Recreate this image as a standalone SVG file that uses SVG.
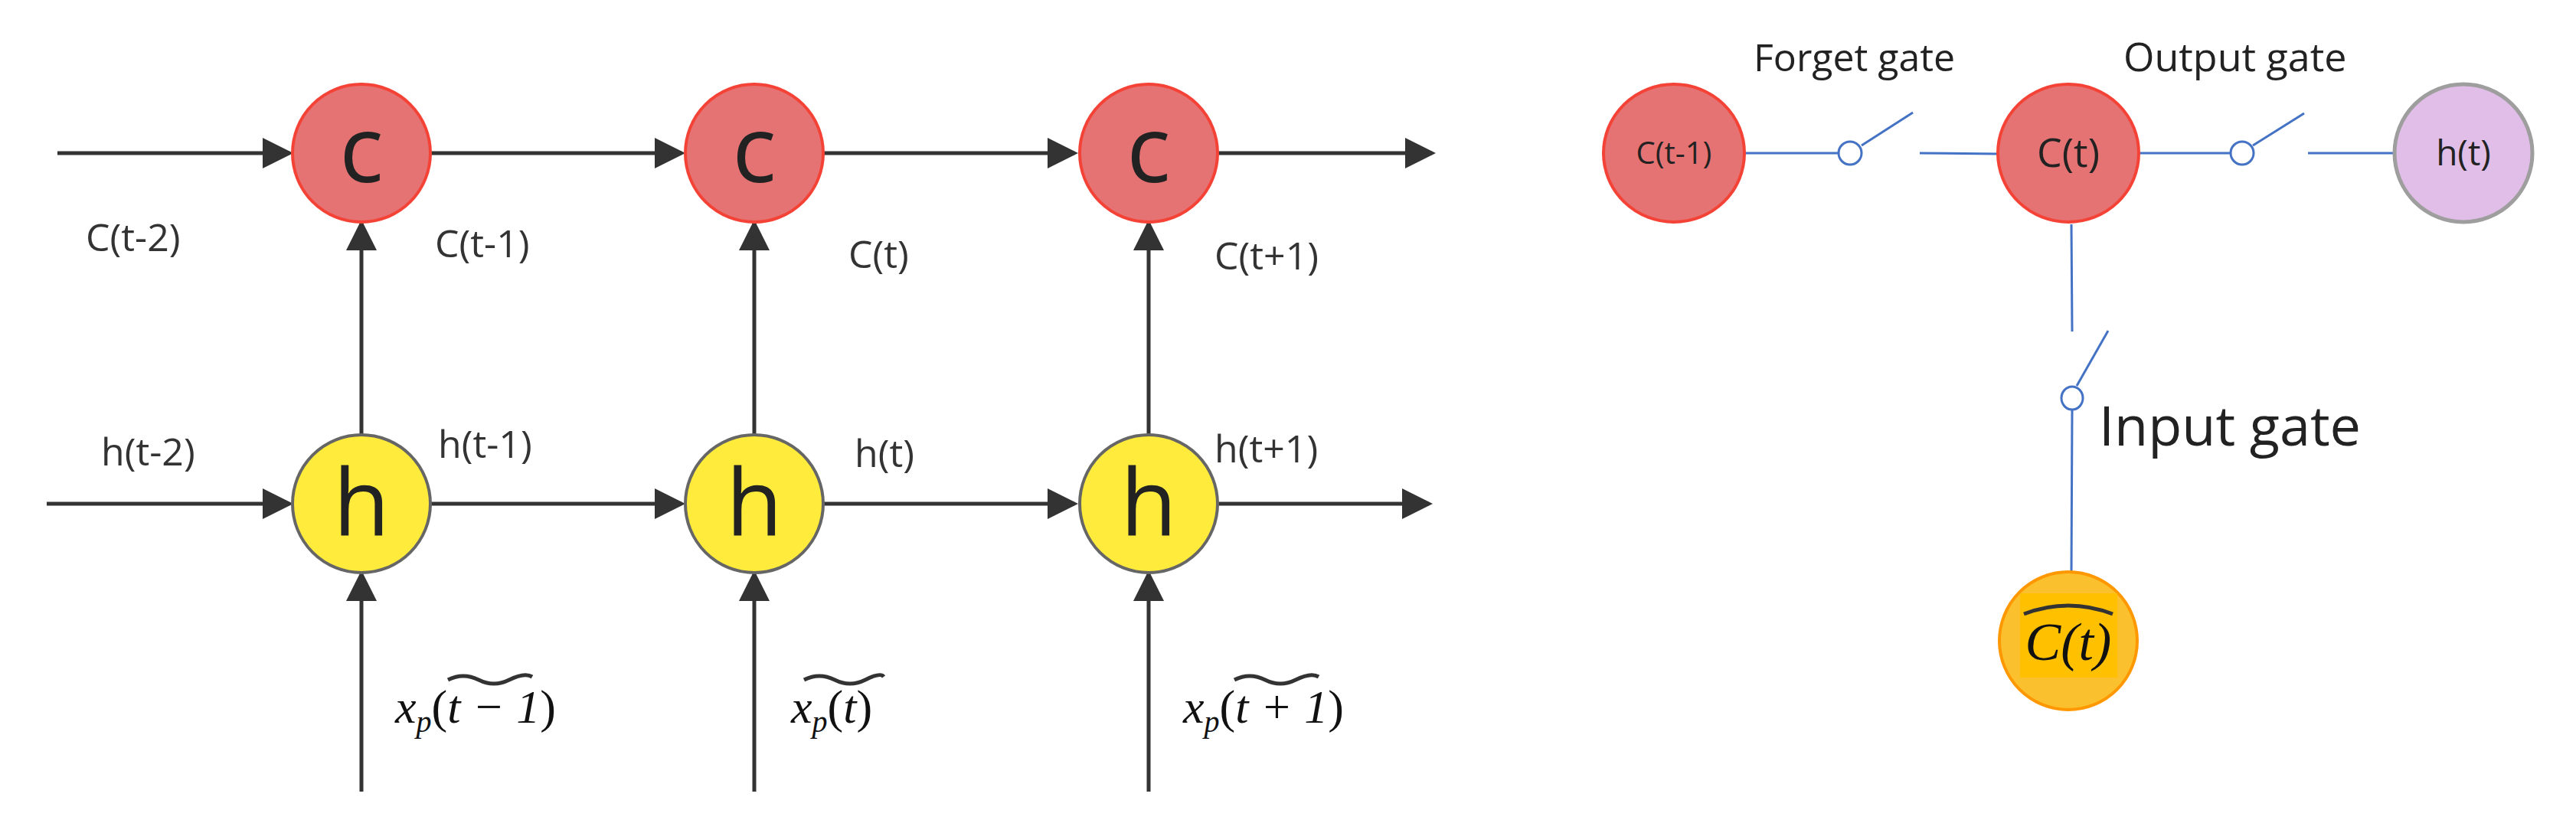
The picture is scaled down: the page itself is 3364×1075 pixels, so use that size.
<svg xmlns="http://www.w3.org/2000/svg" width="3364" height="1075" viewBox="0 0 3364 1075">
<style>
.lbl{font-family:"Open Sans","Noto Sans",sans-serif;font-size:50px;fill:#333}
.big{font-family:"Open Sans","Noto Sans",sans-serif;font-size:120px;fill:#222;text-anchor:middle}
.math{font-family:"Liberation Serif",serif;font-style:italic;font-size:62px;fill:#111}
.c{fill:#e57373;stroke:#f44336;stroke-width:4}
.h{fill:#ffeb3b;stroke:#666;stroke-width:4}
.ar{stroke:#333;stroke-width:5;fill:none}
.bl{stroke:#4472c4;stroke-width:3;fill:none}
.sw{stroke:#4472c4;stroke-width:3;fill:#fff}
.tl{font-family:"Open Sans","Noto Sans",sans-serif;fill:#222}
</style>
<defs><marker id="a" markerWidth="8" markerHeight="8" refX="7" refY="4" orient="auto" markerUnits="strokeWidth"><path d="M0,0L8,4L0,8z" fill="#333"/></marker></defs>
<rect width="3364" height="1075" fill="#fff"/>
<g id="connectors">
<line class="ar" x1="75" y1="200" x2="378" y2="200" marker-end="url(#a)"/>
<line class="ar" x1="560" y1="200" x2="890" y2="200" marker-end="url(#a)"/>
<line class="ar" x1="1072" y1="200" x2="1403" y2="200" marker-end="url(#a)"/>
<line class="ar" x1="1585" y1="200" x2="1870" y2="200" marker-end="url(#a)"/>
<line class="ar" x1="61" y1="658" x2="378" y2="658" marker-end="url(#a)"/>
<line class="ar" x1="560" y1="658" x2="890" y2="658" marker-end="url(#a)"/>
<line class="ar" x1="1072" y1="658" x2="1403" y2="658" marker-end="url(#a)"/>
<line class="ar" x1="1585" y1="658" x2="1866" y2="658" marker-end="url(#a)"/>
<line class="ar" x1="472" y1="568" x2="472" y2="292" marker-end="url(#a)"/>
<line class="ar" x1="985" y1="568" x2="985" y2="292" marker-end="url(#a)"/>
<line class="ar" x1="1500" y1="568" x2="1500" y2="292" marker-end="url(#a)"/>
<line class="ar" x1="472" y1="1034" x2="472" y2="750" marker-end="url(#a)"/>
<line class="ar" x1="985" y1="1034" x2="985" y2="750" marker-end="url(#a)"/>
<line class="ar" x1="1500" y1="1034" x2="1500" y2="750" marker-end="url(#a)"/>
<line class="bl" x1="2278" y1="200" x2="2401" y2="200"/>
<line class="bl" x1="2431" y1="190" x2="2498" y2="147"/>
<line class="bl" x1="2507" y1="200" x2="2610" y2="201"/>
<line class="bl" x1="2794" y1="200" x2="2913" y2="200"/>
<line class="bl" x1="2942" y1="190" x2="3009" y2="148"/>
<line class="bl" x1="3014" y1="200" x2="3126" y2="200"/>
<line class="bl" x1="2705" y1="293" x2="2706" y2="433"/>
<line class="bl" x1="2712" y1="504" x2="2753" y2="432"/>
<line class="bl" x1="2706" y1="535" x2="2705" y2="747"/>
<ellipse class="sw" cx="2416" cy="200" rx="15" ry="15"/>
<ellipse class="sw" cx="2928" cy="200" rx="15" ry="15"/>
<ellipse class="sw" cx="2706" cy="520" rx="14" ry="15"/>
</g>
<g id="c1"><circle class="c" cx="472" cy="200" r="90"/><text class="big" x="472" y="238">c</text></g>
<g id="c2"><circle class="c" cx="985" cy="200" r="90"/><text class="big" x="985" y="238">c</text></g>
<g id="c3"><circle class="c" cx="1500" cy="200" r="90"/><text class="big" x="1500" y="238">c</text></g>
<g id="h1"><circle class="h" cx="472" cy="658" r="90"/><text class="big" x="472" y="700">h</text></g>
<g id="h2"><circle class="h" cx="985" cy="658" r="90"/><text class="big" x="985" y="700">h</text></g>
<g id="h3"><circle class="h" cx="1500" cy="658" r="90"/><text class="big" x="1500" y="700">h</text></g>
<g id="labels">
<text class="lbl" x="112" y="328">C(t-2)</text>
<text class="lbl" x="568" y="336">C(t-1)</text>
<text class="lbl" x="1108" y="350">C(t)</text>
<text class="lbl" x="1586" y="352">C(t+1)</text>
<text class="lbl" x="132" y="608">h(t-2)</text>
<text class="lbl" x="572" y="598">h(t-1)</text>
<text class="lbl" x="1116" y="610">h(t)</text>
<text class="lbl" x="1586" y="604">h(t+1)</text>
</g>
<g id="x1"><text class="math" x="516" y="944">x<tspan font-size="40" dy="12">p</tspan><tspan dy="-12" font-style="normal">(</tspan>t − 1<tspan font-style="normal">)</tspan></text><path d="M585,888 q20,-10 40,0 t40,0 t30,-4" class="ar" stroke-width="3" stroke="#111"/></g>
<g id="x2"><text class="math" x="1033" y="944">x<tspan font-size="40" dy="12">p</tspan><tspan dy="-12" font-style="normal">(</tspan>t<tspan font-style="normal">)</tspan></text><path d="M1050,888 q20,-10 40,0 t40,0 t24,-4" class="ar" stroke-width="3" stroke="#111"/></g>
<g id="x3"><text class="math" x="1545" y="944">x<tspan font-size="40" dy="12">p</tspan><tspan dy="-12" font-style="normal">(</tspan>t + 1<tspan font-style="normal">)</tspan></text><path d="M1612,888 q20,-10 40,0 t40,0 t30,-4" class="ar" stroke-width="3" stroke="#111"/></g>
<g id="ct1"><ellipse class="c" cx="2186" cy="200" rx="92" ry="90"/><text class="tl" x="2186" y="214" font-size="40" text-anchor="middle" fill="#444">C(t-1)</text></g>
<g id="ct"><ellipse class="c" cx="2701" cy="200" rx="92" ry="90"/><text class="tl" x="2701" y="218" font-size="52" text-anchor="middle" fill="#333">C(t)</text></g>
<g id="ht"><ellipse cx="3217" cy="200" rx="90" ry="90" fill="#e1bee7" stroke="#9e9e9e" stroke-width="5"/><text class="tl" x="3217" y="216" font-size="46" text-anchor="middle" fill="#333">h(t)</text></g>
<g id="cc"><ellipse cx="2701" cy="837" rx="90" ry="90" fill="#fbc02d" stroke="#ff9800" stroke-width="4"/><rect x="2638" y="775" width="127" height="110" fill="#ffc000"/><text x="2701" y="862" font-family="Liberation Serif,serif" font-style="italic" font-size="70" text-anchor="middle" fill="#111">C(t)</text><path d="M2643,802 Q2701,780 2759,802" class="ar" stroke-width="3" stroke="#111"/></g>
<g id="gates">
<text class="tl" x="2290" y="93" font-size="50">Forget gate</text>
<text class="tl" x="2773" y="93" font-size="52">Output gate</text>
<text class="tl" x="2741" y="582" font-size="72">Input gate</text>
</g>
</svg>
